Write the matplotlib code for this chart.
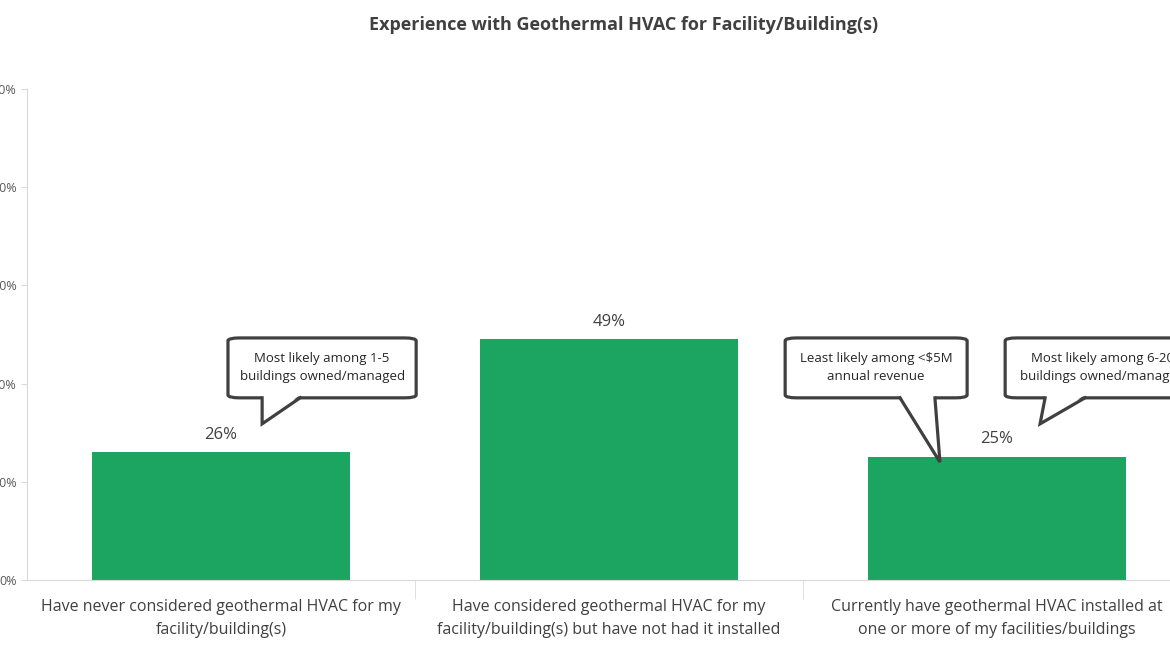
import matplotlib
matplotlib.use("Agg")
import matplotlib.pyplot as plt
from matplotlib.patches import FancyBboxPatch, Polygon

categories = ["Have never considered geothermal HVAC for my\nfacility/building(s)",
              "Have considered geothermal HVAC for my\nfacility/building(s) but have not had it installed",
              "Currently have geothermal HVAC installed at\none or more of my facilities/buildings"]
values = [26, 49, 25]
yticks = [0, 20, 40, 60, 80, 100]
callouts = ["Most likely among 1-5\nbuildings owned/managed",
            "Least likely among <$5M\nannual revenue",
            "Most likely among 6-20\nbuildings owned/managed"]

plt.rcParams['font.family'] = ['Open Sans', 'DejaVu Sans']
fig = plt.figure(figsize=(11.7, 6.59), dpi=100)
ax = fig.add_axes([27/1170, 79/659, 1164/1170, 491/659])
green = "#1CA561"
x = list(range(len(categories)))
ax.bar(x, values, width=0.667, color=green, zorder=2)
for xi, v in zip(x, values):
    ax.text(xi, v + 2, f"{v}%", ha="center", va="bottom", fontsize=12, color="#404040")
ax.set_xlim(-0.5, 2.5)
ax.set_ylim(0, 100)
ax.set_yticks(yticks)
ax.set_yticklabels([f"{t}%" for t in yticks], fontsize=9, color="#595959")
ax.set_xticks(x)
ax.set_xticklabels(categories, fontsize=11.5, color="#404040", linespacing=1.55)
ax.tick_params(axis="x", length=0, pad=14)
ax.tick_params(axis="y", length=4, color="#d9d9d9")
ax.set_xticks([0.5, 1.5], minor=True)
ax.tick_params(axis="x", which="minor", length=14, color="#d9d9d9")
for s in ["top", "right"]:
    ax.spines[s].set_visible(False)
for s in ["left", "bottom"]:
    ax.spines[s].set_color("#d9d9d9")
fig.text(0.533, 0.962, "Experience with Geothermal HVAC for Facility/Building(s)",
         ha="center", va="center", fontsize=13, fontweight="bold", color="#404040")

def bubble(x0, x1, y0, y1, tip, b0, b1, text):
    ec = "#404040"
    box = FancyBboxPatch((x0, y0), x1 - x0, y1 - y0,
                         boxstyle="round,pad=0,rounding_size=0.03",
                         mutation_aspect=100/3*0.6,
                         fc="white", ec=ec, lw=2.3, zorder=5, clip_on=False)
    ax.add_patch(box)
    poly = Polygon([(b0, y0 + 0.6), tip, (b1, y0 + 0.6)], closed=True,
                   fc="white", ec="none", zorder=6, clip_on=False)
    ax.add_patch(poly)
    ax.plot([b0, tip[0], b1], [y0, tip[1], y0], color=ec, lw=2.3, zorder=7,
            clip_on=False, solid_joinstyle="miter")
    ax.text((x0 + x1) / 2, (y0 + y1) / 2, text, ha="center", va="center",
            fontsize=9.5, color="#262626", zorder=8, clip_on=False, linespacing=1.5)

bubble(0.018, 0.503, 37.1, 49.3, (0.106, 31.8), 0.106, 0.204, callouts[0])
bubble(1.454, 1.923, 37.1, 49.3, (1.853, 24.0), 1.75, 1.84, callouts[1])
bubble(2.021, 2.523, 37.1, 49.3, (2.111, 31.8), 2.124, 2.227, callouts[2])

fig.savefig("out.png", dpi=100)
